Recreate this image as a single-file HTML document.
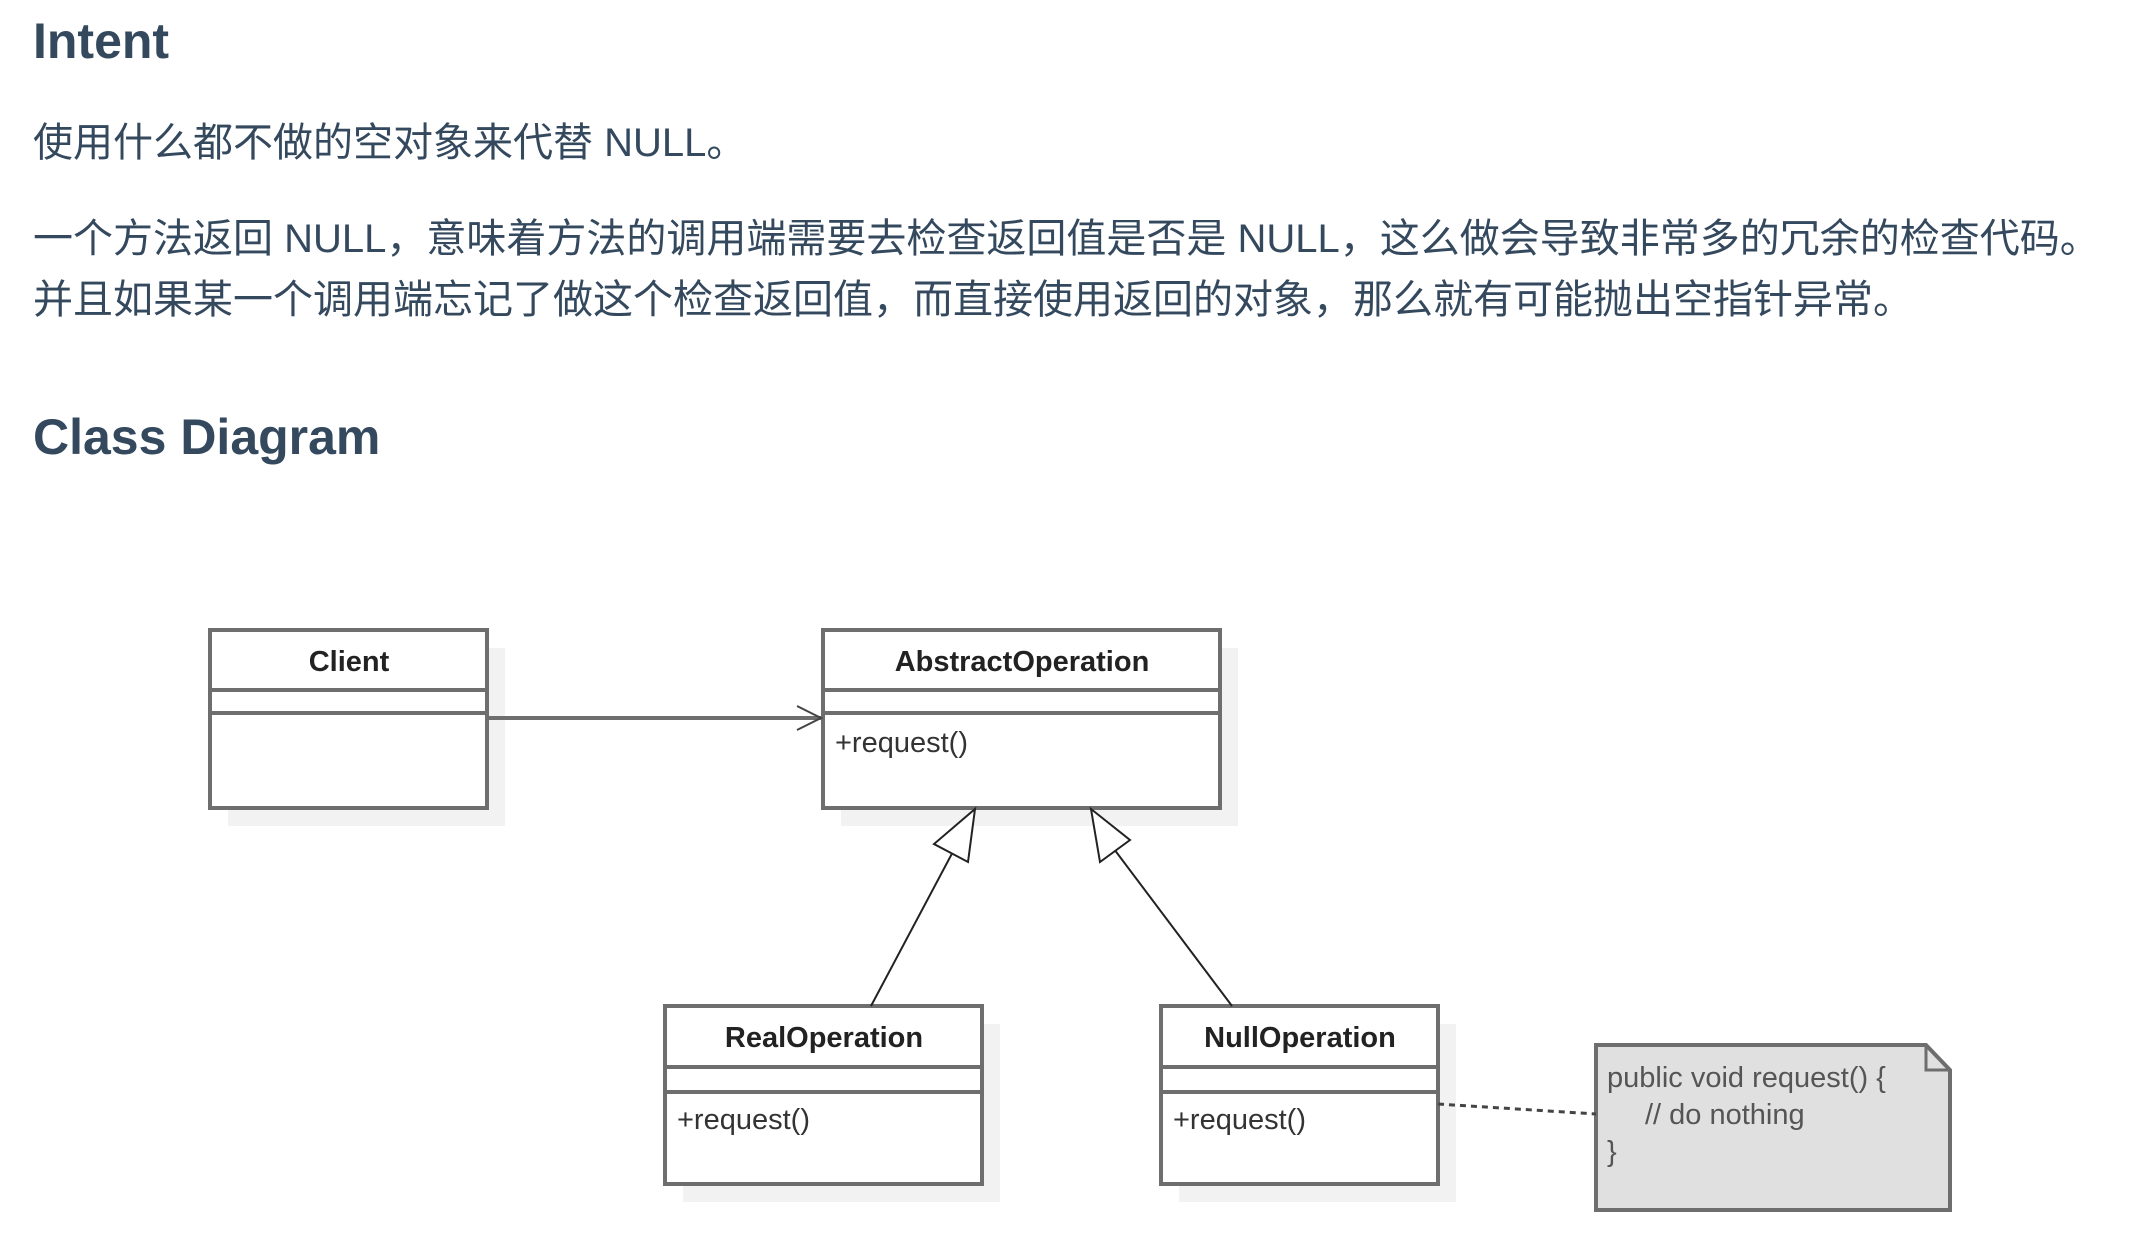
<!DOCTYPE html>
<html><head><meta charset="utf-8"><style>
html,body{margin:0;padding:0;background:#fff;width:2152px;height:1254px;overflow:hidden}
.t{position:absolute;left:33px;color:#34495e;font-family:"Liberation Sans","Noto Sans CJK SC",sans-serif;white-space:nowrap}
.h{font-size:50px;font-weight:bold}
.p{font-size:40px}
</style></head><body>
<div class="t h" style="top:12px">Intent</div>
<div class="t p" style="top:110px">使用什么都不做的空对象来代替 NULL。</div>
<div class="t p" style="top:206px">一个方法返回 NULL，意味着方法的调用端需要去检查返回值是否是 NULL，这么做会导致非常多的冗余的检查代码。</div>
<div class="t p" style="top:267px">并且如果某一个调用端忘记了做这个检查返回值，而直接使用返回的对象，那么就有可能抛出空指针异常。</div>
<div class="t h" style="top:408px">Class Diagram</div>
<svg width="2152" height="1254" style="position:absolute;left:0;top:0" font-family="Liberation Sans, sans-serif">
<g fill="#f2f2f2">
<rect x="228" y="648" width="277" height="178"/>
<rect x="841" y="648" width="397" height="178"/>
<rect x="683" y="1024" width="317" height="178"/>
<rect x="1179" y="1024" width="277" height="178"/>
</g>
<g fill="#fff" stroke="#6e6e6e" stroke-width="4">
<rect x="210" y="630" width="277" height="178"/>
<line x1="210" y1="690" x2="487" y2="690"/><line x1="210" y1="713" x2="487" y2="713"/>
<rect x="823" y="630" width="397" height="178"/>
<line x1="823" y1="690" x2="1220" y2="690"/><line x1="823" y1="713" x2="1220" y2="713"/>
<rect x="665" y="1006" width="317" height="178"/>
<line x1="665" y1="1067" x2="982" y2="1067"/><line x1="665" y1="1092" x2="982" y2="1092"/>
<rect x="1161" y="1006" width="277" height="178"/>
<line x1="1161" y1="1067" x2="1438" y2="1067"/><line x1="1161" y1="1092" x2="1438" y2="1092"/>
</g>
<path d="M1596 1045 H1926 L1950 1070 V1210 H1596 Z" fill="#e0e0e0" stroke="#6e6e6e" stroke-width="4"/>
<path d="M1926 1045 V1070 H1950" fill="none" stroke="#6e6e6e" stroke-width="3"/>
<line x1="487" y1="718" x2="821" y2="718" stroke="#6e6e6e" stroke-width="4"/>
<path d="M797 706 L821 718 L797 730" fill="none" stroke="#444" stroke-width="2"/>
<line x1="1438" y1="1104" x2="1596" y2="1114" stroke="#444" stroke-width="3" stroke-dasharray="6,5"/>
<line x1="871" y1="1006" x2="956" y2="846" stroke="#222" stroke-width="2"/>
<polygon points="975,809 968,862 934,844" fill="#fff" stroke="#222" stroke-width="2"/>
<line x1="1232" y1="1006" x2="1111" y2="845" stroke="#222" stroke-width="2"/>
<polygon points="1091,809 1130,840 1100,862" fill="#fff" stroke="#222" stroke-width="2"/>
<g font-weight="bold" font-size="29" fill="#222" text-anchor="middle">
<text x="349" y="671">Client</text>
<text x="1022" y="671">AbstractOperation</text>
<text x="824" y="1047">RealOperation</text>
<text x="1300" y="1047">NullOperation</text>
</g>
<g font-size="29" fill="#333">
<text x="835" y="752">+request()</text>
<text x="677" y="1129">+request()</text>
<text x="1173" y="1129">+request()</text>
</g>
<g font-size="29" fill="#555">
<text x="1607" y="1087">public void request() {</text>
<text x="1645" y="1124">// do nothing</text>
<text x="1607" y="1161">}</text>
</g>
</svg>
</body></html>
